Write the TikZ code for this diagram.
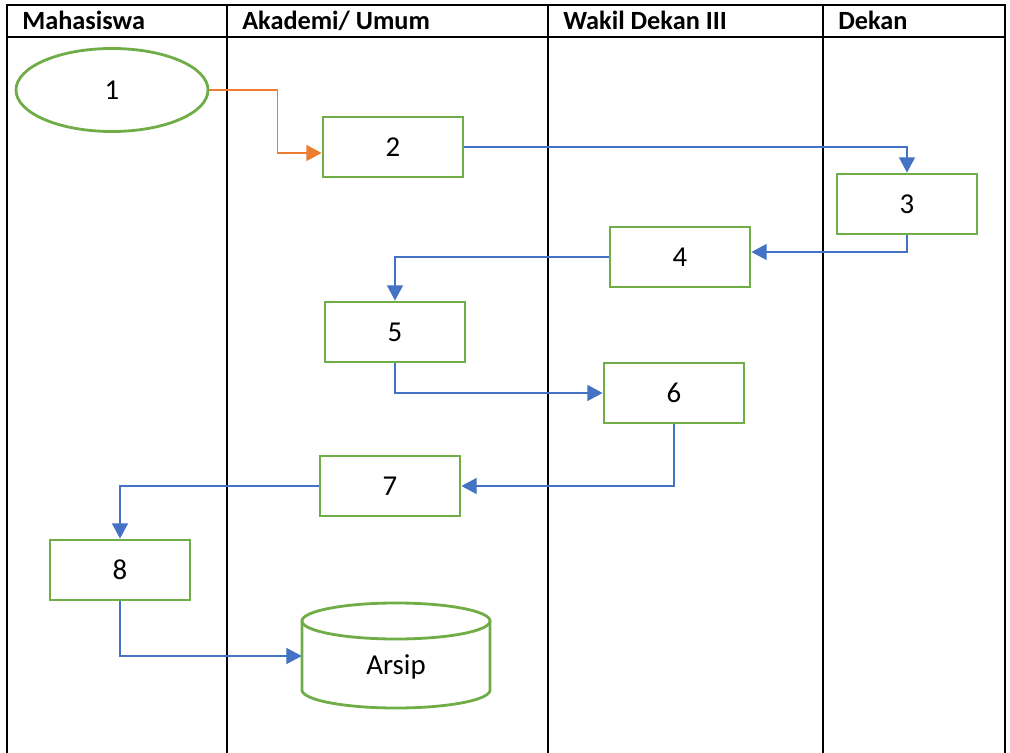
\documentclass[tikz,border=0pt]{standalone}
\usepackage{fontspec}
\setmainfont{Carlito}
\usetikzlibrary{arrows.meta, shapes.geometric}
\definecolor{boxgreen}{RGB}{112,173,71}
\definecolor{flowblue}{RGB}{68,114,196}
\definecolor{floworange}{RGB}{237,125,49}
\begin{document}
\begin{tikzpicture}[x=0.025cm, y=-0.025cm,
    proc node/.style={rectangle, draw=boxgreen, line width=2pt, minimum width=3.5cm, minimum height=1.5cm, font=\fontsize{20.5}{24}\selectfont},
    term node/.style={ellipse, draw=boxgreen, line width=2pt, minimum width=4.8cm, minimum height=2.075cm, font=\fontsize{20.5}{24}\selectfont},
    lane head/.style={anchor=base west, inner sep=0pt, font=\fontsize{18.7}{22}\selectfont\bfseries},
    lane line/.style={line width=2pt, black},
    flow/.style={draw=flowblue, line width=0.9pt, -{Triangle[length=0.38cm, width=0.4cm]}, flowblue},
    start flow/.style={flow, draw=floworange, floworange}]
            \tikzstyle{every node}=[font=\small]

              \useasboundingbox (0,0) rectangle (1010,753);
              % swimlanes
              \draw[lane line] (7,753) -- (7,5) -- (1005,5) -- (1005,753);
              \draw[lane line] (7,37) -- (1005,37);
              \foreach \xl in {227,548,823}
                \draw[lane line] (\xl,5) -- (\xl,753);

              \node[lane head] (hMhs) at (22,30) {Mahasiswa};
              \node[lane head] (hAkd) at (242,30) {Akademi/ Umum};
              \node[lane head] (hWd) at (563,30) {Wakil Dekan III};
              \node[lane head] (hDkn) at (838,30) {Dekan};

              % steps
              \node[term node] (1) at (112,90) {1};
              \node[proc node] (2) at (393,147) {2};
              \node[proc node] (3) at (907,204) {3};
              \node[proc node] (4) at (680,257) {4};
              \node[proc node] (5) at (395,332) {5};
              \node[proc node] (6) at (674,393) {6};
              \node[proc node] (7) at (390,486) {7};
              \node[proc node] (8) at (120,570) {8};
              \node[minimum width=4.7cm, minimum height=1.5cm, inner sep=0pt,
                    font=\fontsize{20.5}{24}\selectfont] (arsip) at (396,667) {Arsip};
              \draw[boxgreen, line width=2pt] (302,621) -- (302,690) arc (180:360:2.35cm and 0.45cm) -- (490,621);
              \draw[boxgreen, line width=2pt] (396,621) ellipse (2.35cm and 0.45cm);

              % connectors
              \draw[start flow] (1.east) -- ++(68,0) |- ([yshift=-0.15cm]2.west);
              \draw[flow] (2.east) -| (3.north);
              \draw[flow] (3.south) |- ([yshift=0.125cm]4.east);
              \draw[flow] (4.west) -| (5.north);
              \draw[flow] (5.south) |- (6.west);
              \draw[flow] (6.south) |- (7.east);
              \draw[flow] (7.west) -| (8.north);
              \draw[flow] (8.south) |- ([yshift=0.275cm]arsip.west);

            \end{tikzpicture}
\end{document}
